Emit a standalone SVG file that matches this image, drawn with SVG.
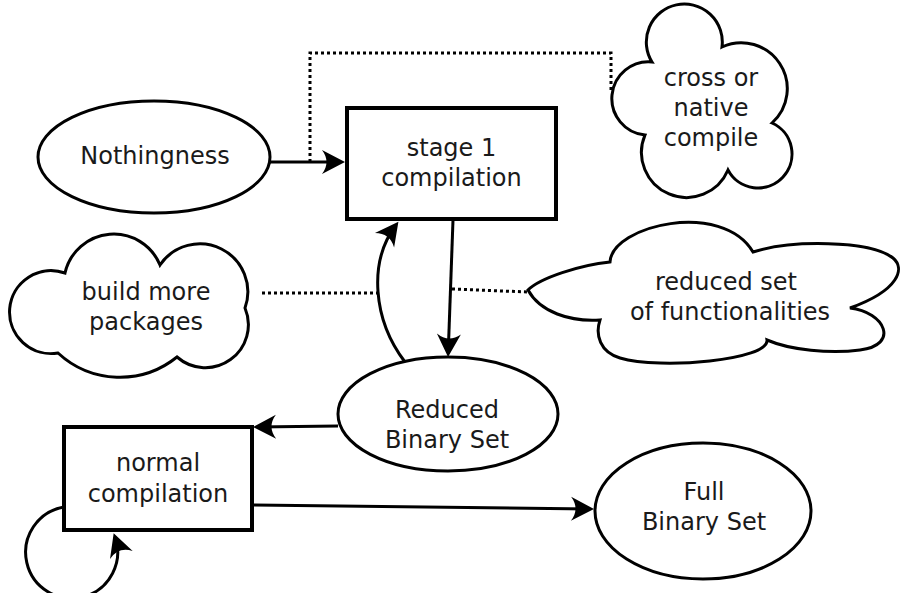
<svg xmlns="http://www.w3.org/2000/svg" width="906" height="593" viewBox="0 0 906 593">
<defs>
<style>
.shape{fill:#fff;stroke:#000;stroke-width:3}
.box{fill:#fff;stroke:#000;stroke-width:4}
.lbl{font-family:"DejaVu Sans","Liberation Sans",sans-serif;font-size:24px;fill:#1a1a1a;text-anchor:middle}
.edge{fill:none;stroke:#000;stroke-width:3}
.dot{fill:none;stroke:#000;stroke-width:3;stroke-dasharray:3,3}
</style>
<marker id="arr" markerUnits="userSpaceOnUse" markerWidth="40" markerHeight="40" refX="0" refY="0" orient="auto" overflow="visible" viewBox="-30 -20 40 40">
<path d="M4,0 L-19,-12 Q-10,0 -19,12 Z" fill="#000"/>
</marker>
</defs>
<rect width="906" height="593" fill="#fff"/>

<g id="connectors">
<path class="dot" d="M310,162 V53 H611 V90"/>
<path class="dot" d="M262,293 H378"/>
<path class="dot" d="M452,289 L528,292"/>
<path class="edge" d="M270,162 H341" marker-end="url(#arr)"/>
<path class="edge" d="M453,220 L448.2,353" marker-end="url(#arr)"/>
<path class="edge" d="M405,362 C373,320 368,262 396,225" marker-end="url(#arr)"/>
<path class="edge" d="M338,426 L257,427" marker-end="url(#arr)"/>
<path class="edge" d="M252,505 L590,509" marker-end="url(#arr)"/>
<path class="edge" d="M64,507 A46,46 0 1 0 115,537" marker-end="url(#arr)"/>
</g>

<g id="nothingness">
<ellipse class="shape" cx="154" cy="157" rx="116" ry="56"/>
<text class="lbl" x="155" y="164">Nothingness</text>
</g>

<g id="stage1">
<rect class="box" x="347" y="108" width="209" height="111"/>
<text class="lbl" x="451.5" y="156">stage 1</text>
<text class="lbl" x="451.5" y="186">compilation</text>
</g>

<g id="cross-native">
<path class="shape" d="M652,62 A38,38 0 1 1 722,47 A46,46 0 0 1 772,123 A34,34 0 1 1 728,170 A45,45 0 0 1 645,135 A36.5,36.5 0 0 1 652,62 Z"/>
<text class="lbl" x="711" y="86">cross or</text>
<text class="lbl" x="711" y="116">native</text>
<text class="lbl" x="711" y="146">compile</text>
</g>

<g id="build-more">
<path class="shape" d="M65,273 A50,50 0 0 1 160,265 A48,48 0 0 1 245,308 A43,43 0 0 1 177,357 A91,91 0 0 1 58,353 A41.5,41.5 0 1 1 65,273 Z"/>
<text class="lbl" x="146" y="300">build more</text>
<text class="lbl" x="146" y="330">packages</text>
</g>

<g id="reduced-set">
<path class="shape" d="M528,290 C540,278 580,265 610,262 C612,225 722,200 753,252 C790,240 870,240 893,258 C905,268 900,290 850,308 C885,312 900,345 860,350 C830,354 790,350 767,340 C770,360 660,370 620,358 C600,352 595,335 600,320 C570,322 540,312 528,290 Z"/>
<text class="lbl" x="726" y="290">reduced set</text>
<text class="lbl" x="730" y="320">of functionalities</text>
</g>

<g id="reduced-binary">
<ellipse class="shape" cx="448" cy="414" rx="110" ry="57"/>
<text class="lbl" x="447" y="418">Reduced</text>
<text class="lbl" x="447" y="448">Binary Set</text>
</g>

<g id="normal">
<rect class="box" x="64" y="427" width="188" height="103"/>
<text class="lbl" x="158" y="471">normal</text>
<text class="lbl" x="158" y="502">compilation</text>
</g>

<g id="full-binary">
<ellipse class="shape" cx="703" cy="511" rx="108" ry="68"/>
<text class="lbl" x="704" y="500">Full</text>
<text class="lbl" x="704" y="530">Binary Set</text>
</g>
</svg>
